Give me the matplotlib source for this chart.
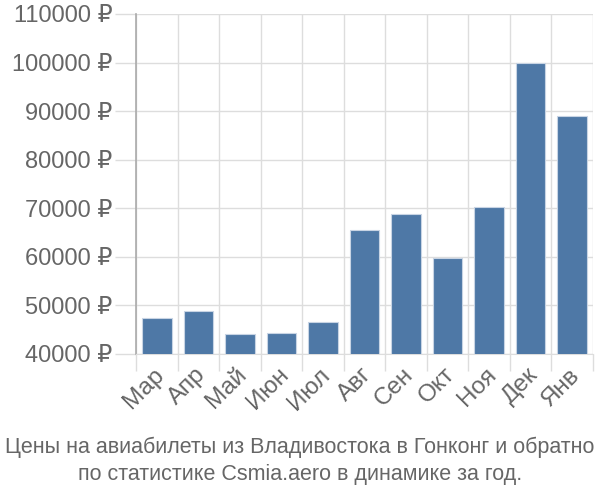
import matplotlib
matplotlib.use("Agg")
import matplotlib.pyplot as plt
from matplotlib import font_manager
import matplotlib.transforms as mtransforms
import numpy as np

months = ["Мар", "Апр", "Май", "Июн", "Июл", "Авг", "Сен", "Окт", "Ноя", "Дек", "Янв"]
prices = [47400, 48800, 44100, 44400, 46600, 65600, 68800, 59800, 70200, 100000, 89000]
yticks = [40000, 50000, 60000, 70000, 80000, 90000, 100000, 110000]
title = "Цены на авиабилеты из Владивостока в Гонконг и обратно\nпо статистике Csmia.aero в динамике за год."

names = {f.name for f in font_manager.fontManager.ttflist}
title_font = "Liberation Sans Narrow" if "Liberation Sans Narrow" in names else "Liberation Sans"
plt.rcParams['font.family'] = ['Liberation Sans', 'DejaVu Sans']

fig = plt.figure(figsize=(6, 5), dpi=100)
ax = fig.add_axes([136/600, 1-354/500, (593-136)/600, (354-14)/500])

x = np.arange(len(months))
ax.bar(x, prices, width=0.71, color="#4e78a6", edgecolor="#c8d4e4", linewidth=0.8, zorder=3)

ax.set_xlim(-0.5, len(months)-0.5)
ax.set_ylim(40000, 110000)

grid_c = "#dddddd"
ax.set_yticks(yticks)
ax.set_yticklabels([f"{v} ₽" for v in yticks])
ax.set_xticks(np.arange(-0.5, len(months)), minor=False)
ax.set_xticklabels([])
ax.set_xticks(x, minor=True)
ax.set_xticklabels(months, minor=True, rotation=45, ha='right', va='top', rotation_mode='anchor')

ax.tick_params(axis='y', which='major', length=15, width=1, color=grid_c, labelsize=17, labelcolor="#666666", pad=2)
ax.tick_params(axis='x', which='major', length=12, width=1, color=grid_c)
ax.tick_params(axis='x', which='minor', length=0, labelsize=17.5, labelcolor="#666666", pad=7)

offset = mtransforms.ScaledTranslation(-4/100, 0, fig.dpi_scale_trans)
for lbl in ax.get_xticklabels(minor=True):
    lbl.set_transform(lbl.get_transform() + offset)

ax.grid(True, which='major', color=grid_c, linewidth=1, zorder=0)
for s in ['top', 'right']:
    ax.spines[s].set_visible(False)
ax.spines['bottom'].set_color(grid_c)
ax.spines['left'].set_color("#aaaaaa")
ax.spines['left'].set_linewidth(1.2)

fig.text(0.5, 0.03, title, ha='center', va='bottom', fontsize=15.5, color="#666666",
         family=[title_font, 'DejaVu Sans'], linespacing=1.4)

fig.savefig("out.png", dpi=100)
